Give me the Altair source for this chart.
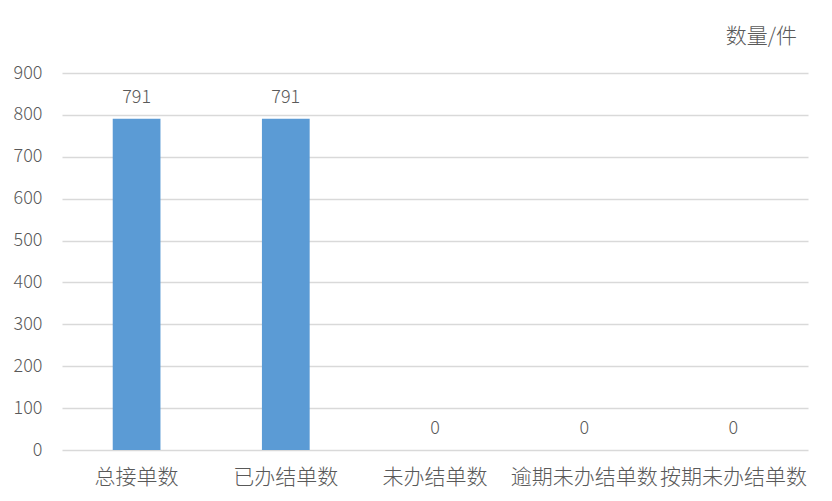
import altair as alt
import pandas as pd

categories = ["总接单数", "已办结单数", "未办结单数", "逾期未办结单数", "按期未办结单数"]
values = [791, 791, 0, 0, 0]

df = pd.DataFrame({"cat": categories, "val": values})

FONT = "Noto Sans CJK SC"
GRAY = "#595959"

x = alt.X("cat:N", sort=categories, title=None,
          scale=alt.Scale(paddingInner=0.68, paddingOuter=0.34),
          axis=alt.Axis(labelAngle=0, labelFontSize=21, labelColor=GRAY, labelFont=FONT,
                        labelPadding=16, ticks=False, domain=False, grid=False,
                        labelFontWeight=300))
y = alt.Y("val:Q", title=None,
          scale=alt.Scale(domain=[0, 900], nice=False),
          axis=alt.Axis(values=list(range(0, 901, 100)), labelFontSize=18, labelColor=GRAY,
                        labelFont=FONT, labelPadding=20, ticks=False, domain=False,
                        grid=True, gridColor="#D9D9D9", gridWidth=1.3, labelFontWeight=300))

bars = alt.Chart(df).mark_bar(color="#5B9BD5").encode(x=x, y=y)
labels = alt.Chart(df).mark_text(fontSize=18, color=GRAY, font=FONT, baseline="alphabetic",
                                 dy=-16, fontWeight=300).encode(
    x=alt.X("cat:N", sort=categories), y="val:Q", text="val:Q")

chart = alt.layer(bars, labels).properties(
    width=746, height=377,
    autosize="none",
    padding={"left": 54, "top": 65, "right": 16, "bottom": 40},
    title=alt.TitleParams(text="数量/件", anchor="end", frame="group", fontSize=21,
                          font=FONT, color=GRAY, fontWeight=300, dx=-11, dy=34, offset=30,
                          baseline="bottom"),
).configure_view(stroke=None)

chart.save("out.html", embed_options={"renderer": "svg", "actions": False})
